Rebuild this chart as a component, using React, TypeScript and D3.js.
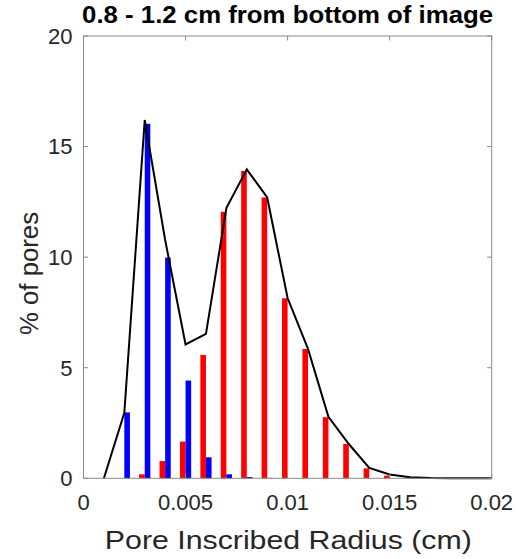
import React from "react";
import * as d3 from "d3";

const radii = [0.001, 0.002, 0.003, 0.004, 0.005, 0.006, 0.007, 0.008, 0.009, 0.01, 0.011, 0.012, 0.013, 0.014, 0.015, 0.016, 0.017, 0.018, 0.019, 0.02];
const redValues = [0, 0, 0.18, 0.78, 1.66, 5.58, 12.05, 13.9, 12.7, 8.14, 5.85, 2.76, 1.55, 0.45, 0.12, 0.03, 0, 0, 0, 0];
const blueValues = [0, 2.98, 16.03, 9.98, 4.42, 0.95, 0.18, 0.06, 0.02, 0, 0, 0, 0, 0, 0, 0, 0, 0, 0, 0];
const totalValues = [0, 2.96, 16.2, 10.78, 6.05, 6.53, 12.22, 13.97, 12.7, 8.15, 5.85, 2.78, 1.55, 0.47, 0.17, 0.05, 0.01, 0, 0, 0];
const xTicks = [0, 0.005, 0.01, 0.015, 0.02];
const xTickLabels = ["0", "0.005", "0.01", "0.015", "0.02"];
const yTicks = [0, 5, 10, 15, 20];

const title = "0.8 - 1.2 cm from bottom of image";
const xLabel = "Pore Inscribed Radius (cm)";
const yLabel = "% of pores";

const W = 518;
const H = 559;
const left = 83.5;
const right = 491.7;
const top = 36;
const bottom = 478.3;
const barW = 5.6;
const tickLen = 4.5;
const axisColor = "#8a8a8a";
const textColor = "#262626";
const font = "'Liberation Sans', Arial, Helvetica, sans-serif";

export default function App() {
  const x = d3.scaleLinear().domain([0, 0.02]).range([left, right]);
  const y = d3.scaleLinear().domain([0, 20]).range([bottom, top]);
  const line = d3
    .line<number>()
    .x((_, i) => x(radii[i]))
    .y((d) => y(d));

  return (
    <svg
      width={W}
      height={H}
      style={{ position: "absolute", left: 0, top: 0, background: "#fff" }}
    >
      <rect x={0} y={0} width={W} height={H} fill="#fff" />
      {radii.map((r, i) =>
        redValues[i] > 0 ? (
          <rect
            key={"r" + i}
            x={x(r) - barW}
            y={y(redValues[i])}
            width={barW}
            height={y(0) - y(redValues[i])}
            fill="#ff0000"
          />
        ) : null
      )}
      {radii.map((r, i) =>
        blueValues[i] > 0 ? (
          <rect
            key={"b" + i}
            x={x(r)}
            y={y(blueValues[i])}
            width={barW}
            height={y(0) - y(blueValues[i])}
            fill="#0000ff"
          />
        ) : null
      )}
      <path
        d={line(totalValues) || ""}
        fill="none"
        stroke="#000"
        strokeWidth={2}
        strokeLinejoin="miter"
      />
      {/* box */}
      <rect
        x={left}
        y={top}
        width={right - left}
        height={bottom - top}
        fill="none"
        stroke={axisColor}
        strokeWidth={1}
      />
      {xTicks.map((t, i) => (
        <g key={"xt" + i}>
          <line x1={x(t)} x2={x(t)} y1={bottom} y2={bottom - tickLen} stroke={axisColor} />
          <line x1={x(t)} x2={x(t)} y1={top} y2={top + tickLen} stroke={axisColor} />
          <text
            x={x(t)}
            y={510}
            textAnchor="middle"
            fontFamily={font}
            fontSize={22}
            fill={textColor}
          >
            {xTickLabels[i]}
          </text>
        </g>
      ))}
      {yTicks.map((t, i) => (
        <g key={"yt" + i}>
          <line x1={left} x2={left + tickLen} y1={y(t)} y2={y(t)} stroke={axisColor} />
          <line x1={right} x2={right - tickLen} y1={y(t)} y2={y(t)} stroke={axisColor} />
          <text
            x={72.5}
            y={y(t) + 7.8}
            textAnchor="end"
            fontFamily={font}
            fontSize={22}
            fill={textColor}
          >
            {String(t)}
          </text>
        </g>
      ))}
      <text
        x={(left + right) / 2}
        y={22.5}
        textAnchor="middle"
        fontFamily={font}
        fontWeight="bold"
        fontSize={23.5}
        fill="#000"
        textLength={411}
        lengthAdjust="spacingAndGlyphs"
      >
        {title}
      </text>
      <text
        x={(105 + 471.7) / 2}
        y={548.5}
        textAnchor="middle"
        fontFamily={font}
        fontSize={25.5}
        fill={textColor}
        textLength={367}
        lengthAdjust="spacingAndGlyphs"
      >
        {xLabel}
      </text>
      <text
        transform={`translate(38, ${(212 + 335) / 2}) rotate(-90)`}
        textAnchor="middle"
        fontFamily={font}
        fontSize={25.5}
        fill={textColor}
        textLength={123}
        lengthAdjust="spacingAndGlyphs"
      >
        {yLabel}
      </text>
    </svg>
  );
}
